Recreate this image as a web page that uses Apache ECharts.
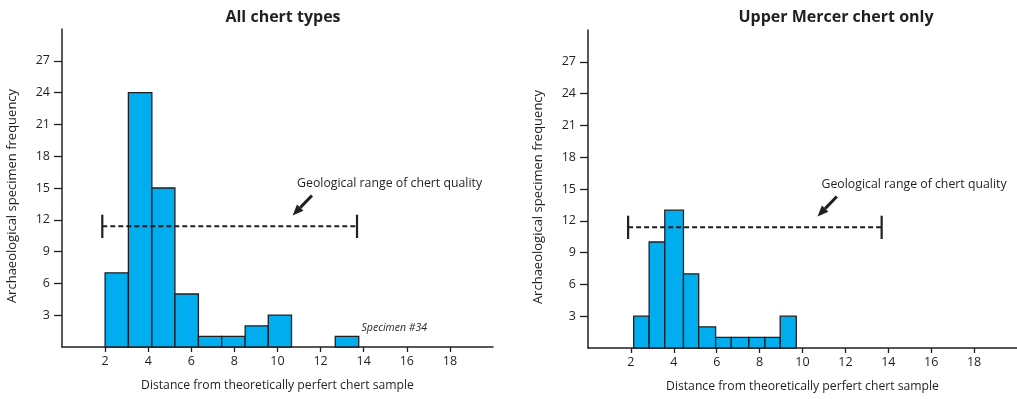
<!DOCTYPE html>
<html><head><meta charset="utf-8">
<script src="https://cdn.jsdelivr.net/npm/echarts@6/dist/echarts.min.js"></script>
<style>html,body{margin:0;padding:0;background:#fff}#c{width:1017px;height:399px}</style>
</head><body><div id="c"></div>
<script>
// ---- data ----
const titles = ['All chert types', 'Upper Mercer chert only'];
const xTickValues = [2, 4, 6, 8, 10, 12, 14, 16, 18];
const yTickValues = [3, 6, 9, 12, 15, 18, 21, 24, 27];
const leftStart = [2.0, 3.08, 4.17, 5.24, 6.33, 7.41, 8.5, 9.57, 12.68];
const leftEnd   = [3.08, 4.17, 5.24, 6.33, 7.41, 8.5, 9.57, 10.65, 13.77];
const leftCounts = [7, 24, 15, 5, 1, 1, 2, 3, 1];
const rightStart = [2.13, 2.85, 3.58, 4.45, 5.16, 5.95, 6.68, 7.5, 8.25, 8.96];
const rightEnd   = [2.85, 3.58, 4.45, 5.16, 5.95, 6.68, 7.5, 8.25, 8.96, 9.71];
const rightCounts = [3, 10, 13, 7, 2, 1, 1, 1, 1, 3];
const rangeX = [1.87, 13.69];
const rangeY = 11.38;
const rangeCap = 1.1;
const rangeLabel = 'Geological range of chert quality';
const rangeLabelPos = [15.2, 15.4];
const arrowFrom = [11.6, 14.3];
const arrowTo = [10.7, 12.4];
const specimenLabel = 'Specimen #34';
const specimenLabelPos = [13.9, 1.8];
const xName = 'Distance from theoretically perfert chert sample';
const yName = 'Archaeological specimen frequency';

const FONT = 'Open Sans';
const TXT = '#231f20';
const chart = echarts.init(document.getElementById('c'));

function bins(s, e, c) { return s.map((v, i) => [v, e[i], c[i]]); }

function xAxis(idx) {
  return {
    type: 'value', gridIndex: idx, min: 0, max: 20, interval: 2,
    name: xName, nameLocation: 'middle', nameGap: 33,
    nameTextStyle: { fontFamily: FONT, fontSize: 12.2, color: TXT },
    splitLine: { show: false },
    axisLine: { lineStyle: { color: '#231f20', width: 1.5 } },
    axisTick: { length: 5, customValues: xTickValues, lineStyle: { color: '#231f20', width: 1.3 } },
    axisLabel: { customValues: xTickValues, fontFamily: FONT, fontSize: 12.5, color: TXT, margin: 8 }
  };
}
function yAxis(idx) {
  return {
    type: 'value', gridIndex: idx, min: 0, max: 30, interval: 3,
    name: yName, nameLocation: 'middle', nameGap: 43, nameRotate: 90,
    nameTextStyle: { fontFamily: FONT, fontSize: 13, color: TXT, padding: [0, 16, 0, 0] },
    splitLine: { show: false },
    axisLine: { show: true, lineStyle: { color: '#231f20', width: 1.5 } },
    axisTick: { show: true, length: 8, customValues: yTickValues, lineStyle: { color: '#231f20', width: 1.3 } },
    axisLabel: { customValues: yTickValues, fontFamily: FONT, fontSize: 12.5, color: TXT, margin: 12 }
  };
}
function barSeries(idx, data) {
  return {
    type: 'custom', xAxisIndex: idx, yAxisIndex: idx, data: data,
    encode: { x: [0, 1], y: 2 },
    renderItem: function (params, api) {
      const p0 = api.coord([api.value(0), 0]);
      const p1 = api.coord([api.value(1), api.value(2)]);
      return { type: 'rect', shape: { x: p0[0], y: p1[1], width: p1[0] - p0[0], height: p0[1] - p1[1] },
        style: { fill: '#00aeef', stroke: '#231f20', lineWidth: 1.3 } };
    }
  };
}
function annotSeries(idx, withSpecimen) {
  return {
    type: 'custom', xAxisIndex: idx, yAxisIndex: idx, data: [[rangeX[0], rangeX[1], rangeY]],
    silent: true, clip: false,
    renderItem: function (params, api) {
      const a = api.coord([api.value(0), api.value(2)]);
      const b = api.coord([api.value(1), api.value(2)]);
      const capH = api.size([0, rangeCap])[1];
      const lp = api.coord(rangeLabelPos);
      const af = api.coord(arrowFrom), at = api.coord(arrowTo);
      const dx = at[0] - af[0], dy = at[1] - af[1], L = Math.hypot(dx, dy);
      const ux = dx / L, uy = dy / L, nx = -uy, ny = ux;
      const hl = 11, hw = 4.5;
      const base = [at[0] - ux * hl, at[1] - uy * hl];
      const ch = [
        { type: 'line', shape: { x1: a[0], y1: a[1], x2: b[0], y2: b[1] }, style: { stroke: '#231f20', lineWidth: 2, lineDash: [5, 3] } },
        { type: 'line', shape: { x1: a[0], y1: a[1] - capH, x2: a[0], y2: a[1] + capH }, style: { stroke: '#231f20', lineWidth: 2.2 } },
        { type: 'line', shape: { x1: b[0], y1: b[1] - capH, x2: b[0], y2: b[1] + capH }, style: { stroke: '#231f20', lineWidth: 2.2 } },
        { type: 'text', x: lp[0], y: lp[1], style: { text: rangeLabel, fill: TXT, font: '12.3px "' + FONT + '"', align: 'center', verticalAlign: 'middle' } },
        { type: 'line', shape: { x1: af[0], y1: af[1], x2: base[0], y2: base[1] }, style: { stroke: '#231f20', lineWidth: 3 } },
        { type: 'polygon', shape: { points: [at, [base[0] + nx * hw, base[1] + ny * hw], [base[0] - nx * hw, base[1] - ny * hw]] }, style: { fill: '#231f20' } }
      ];
      if (withSpecimen) {
        const sp = api.coord(specimenLabelPos);
        ch.push({ type: 'text', x: sp[0], y: sp[1], style: { text: specimenLabel, fill: TXT, font: 'italic 10.5px "' + FONT + '"', align: 'left', verticalAlign: 'middle' } });
      }
      return { type: 'group', children: ch };
    }
  };
}

chart.setOption({
  animation: false,
  backgroundColor: '#fff',
  title: [
    { text: titles[0], left: 278, top: 4, textAlign: 'center', textStyle: { fontFamily: FONT, fontWeight: 'bold', fontSize: 16, color: TXT } },
    { text: titles[1], left: 831, top: 4, textAlign: 'center', textStyle: { fontFamily: FONT, fontWeight: 'bold', fontSize: 16, color: TXT } }
  ],
  grid: [
    { left: 62, top: 29, width: 431, height: 318 },
    { left: 588, top: 30, width: 431, height: 318 }
  ],
  xAxis: [xAxis(0), xAxis(1)],
  yAxis: [yAxis(0), yAxis(1)],
  series: [
    barSeries(0, bins(leftStart, leftEnd, leftCounts)),
    barSeries(1, bins(rightStart, rightEnd, rightCounts)),
    annotSeries(0, true),
    annotSeries(1, false)
  ]
});
</script></body></html>
